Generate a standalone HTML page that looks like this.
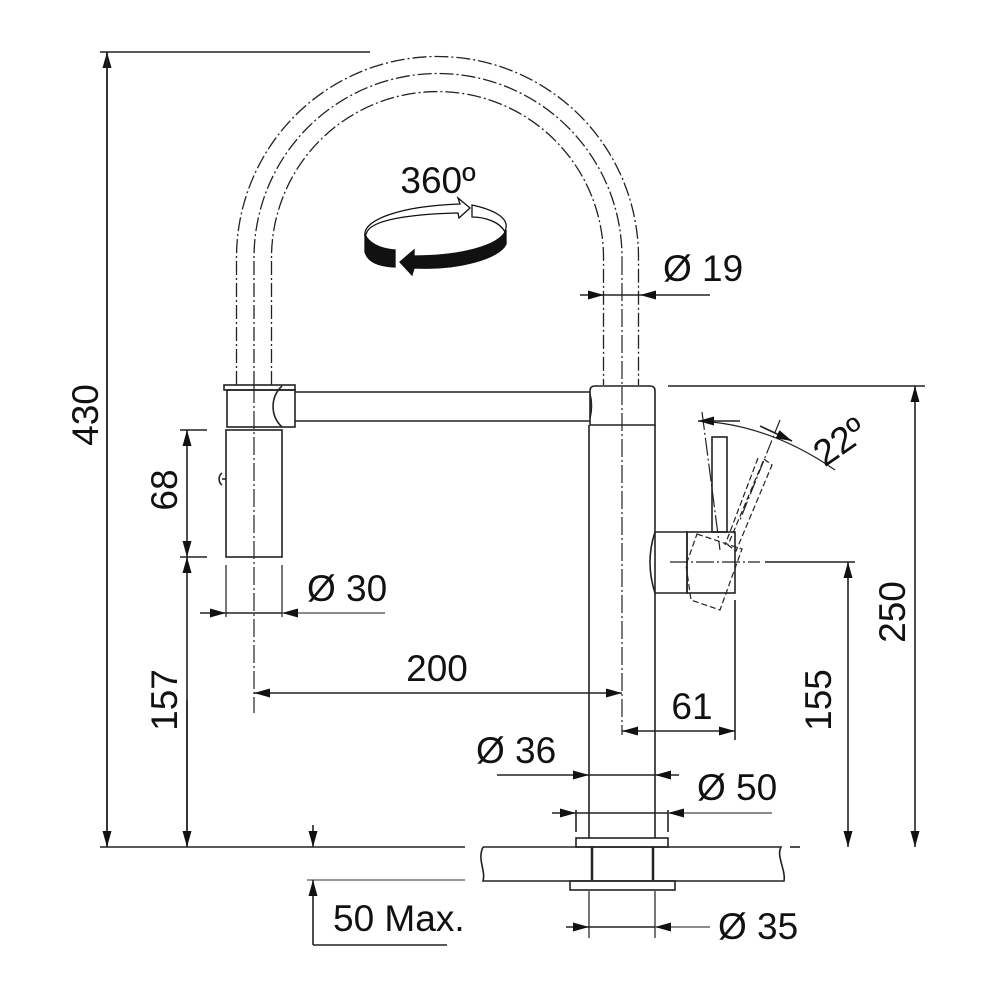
<!DOCTYPE html>
<html><head><meta charset="utf-8"><style>
html,body{margin:0;padding:0;background:#fff}
svg{display:block}
text{font-family:"Liberation Sans",Arial,sans-serif;fill:#111}
</style></head><body>
<svg width="1000" height="1000" viewBox="0 0 1000 1000" xmlns="http://www.w3.org/2000/svg">
<defs>
<marker id="a" markerUnits="userSpaceOnUse" markerWidth="18" markerHeight="10" refX="16" refY="4.5" orient="auto"><path d="M0,0 L16,4.5 L0,9 z" fill="#111"/></marker>
</defs>
<g fill="none" stroke="#222" stroke-width="1.6">
<!-- 430 -->
<line x1="100" y1="52" x2="370" y2="52"/>
<line x1="107" y1="847" x2="107" y2="52" marker-end="url(#a)"/>
<line x1="107" y1="52" x2="107" y2="847" marker-end="url(#a)"/>
<line x1="100" y1="847" x2="465" y2="847"/>
<!-- countertop -->
<line x1="307" y1="880" x2="465" y2="880" stroke="#777"/>
<path d="M483,847 L781,847 C776,856 786,870 784,881 L483,881 C486,870 477,860 483,847"/>
<line x1="790" y1="847" x2="800" y2="847"/>
<!-- arch -->
<g stroke-dasharray="14,3,2,3" stroke-width="1.3">
<path d="M236.5,385 L236.5,257.5 A201,201 0 0 1 638.5,257.5 L638.5,385"/>
<path d="M271.5,385 L271.5,257.5 A166,166 0 0 1 603.5,257.5 L603.5,385"/>
<path d="M254,385 L254,257.5 A184,184 0 0 1 622,257.5"/>
</g>
<!-- center lines -->
<g stroke-dasharray="18,3,2,3" stroke-width="1.2">
<line x1="254" y1="385" x2="254" y2="713"/>
<line x1="622" y1="257" x2="622" y2="735"/>
<line x1="702" y1="412" x2="720" y2="550"/>
<line x1="670" y1="562" x2="760" y2="562"/>
</g>
<!-- left head -->
<rect x="224" y="385" width="71" height="5"/>
<rect x="227" y="390" width="68" height="37"/>
<path d="M282,386 A28,28 0 0 0 282,427"/>
<rect x="226" y="430" width="56" height="127"/>
<path d="M222,473 A6,7 0 0 0 222,485 M222,479 L226,479"/>
<!-- spout -->
<line x1="295" y1="392" x2="590" y2="392"/>
<line x1="295" y1="421" x2="590" y2="421"/>
<!-- body -->
<path d="M590,425 L590,391 Q590,386 595,386 L650,386 Q655,386 655,391 L655,425 Z"/>
<path d="M590,394 Q593,406 590,418"/>
<line x1="589" y1="425" x2="589" y2="838"/>
<line x1="655" y1="425" x2="655" y2="838"/>
<!-- lever -->
<path d="M655,532 L687,532 L687,593 L655,593 Q645,562 655,532"/>
<rect x="687" y="532" width="48" height="61"/>
<rect x="712" y="437" width="15" height="95"/>
<g stroke-dasharray="6,3" stroke-width="1.2">
<path d="M764,459 L772,465 L736,551 L728,545 Z"/>
<path d="M758,458 L725,545"/>
<path d="M697,534 L742,549 L720,610 L691,600 L686,565 Z"/>
</g>
<!-- 22 deg -->
<path d="M700,421 Q770,425 835,470" stroke-width="1.2"/>
<line x1="780" y1="420" x2="740" y2="520" stroke-dasharray="14,3,2,3" stroke-width="1.2"/>
<line x1="740" y1="421" x2="698" y2="421" marker-end="url(#a)"/>
<line x1="760" y1="426" x2="792" y2="441" marker-end="url(#a)"/>
<!-- flange & under -->
<rect x="576" y="838" width="92" height="9"/>
<line x1="592" y1="847" x2="592" y2="880" stroke-width="2.5"/>
<line x1="653" y1="847" x2="653" y2="880" stroke-width="2.5"/>
<rect x="570" y="881" width="105" height="9"/>
<!-- Ø19 -->
<line x1="580" y1="295" x2="604" y2="295" marker-end="url(#a)"/>
<line x1="710" y1="295" x2="640" y2="295" marker-end="url(#a)"/>
<line x1="604" y1="295" x2="640" y2="295"/>
<!-- 68 / 157 -->
<line x1="180" y1="430" x2="207" y2="430"/>
<line x1="180" y1="557" x2="207" y2="557"/>
<line x1="187" y1="493" x2="187" y2="430" marker-end="url(#a)"/>
<line x1="187" y1="493" x2="187" y2="557" marker-end="url(#a)"/>
<line x1="187" y1="847" x2="187" y2="557" marker-end="url(#a)"/>
<line x1="187" y1="700" x2="187" y2="847" marker-end="url(#a)"/>
<!-- Ø30 -->
<line x1="226" y1="565" x2="226" y2="617" stroke="#555"/>
<line x1="282" y1="565" x2="282" y2="617" stroke="#555"/>
<line x1="200" y1="613" x2="226" y2="613" marker-end="url(#a)"/>
<line x1="385" y1="613" x2="282" y2="613" stroke="#666" marker-end="url(#a)"/>
<line x1="226" y1="613" x2="282" y2="613"/>
<!-- 200 -->
<line x1="440" y1="693" x2="254" y2="693" marker-end="url(#a)"/>
<line x1="440" y1="693" x2="622" y2="693" marker-end="url(#a)"/>
<!-- 61 -->
<line x1="735" y1="600" x2="735" y2="740"/>
<line x1="680" y1="731" x2="622" y2="731" marker-end="url(#a)"/>
<line x1="680" y1="731" x2="735" y2="731" marker-end="url(#a)"/>
<!-- 155 -->
<line x1="765" y1="562" x2="855" y2="562"/>
<line x1="848" y1="700" x2="848" y2="562" marker-end="url(#a)"/>
<line x1="848" y1="700" x2="848" y2="847" marker-end="url(#a)"/>
<!-- 250 -->
<line x1="668" y1="386" x2="925" y2="386"/>
<line x1="915" y1="600" x2="915" y2="386" marker-end="url(#a)"/>
<line x1="915" y1="600" x2="915" y2="847" marker-end="url(#a)"/>
<!-- Ø36 -->
<line x1="497" y1="775" x2="589" y2="775" marker-end="url(#a)"/>
<line x1="679" y1="775" x2="655" y2="775" marker-end="url(#a)"/>
<line x1="589" y1="775" x2="655" y2="775"/>
<!-- Ø50 -->
<line x1="576" y1="810" x2="576" y2="832"/>
<line x1="668" y1="810" x2="668" y2="832"/>
<line x1="552" y1="813" x2="576" y2="813" marker-end="url(#a)"/>
<line x1="772" y1="813" x2="668" y2="813" stroke="#666" marker-end="url(#a)"/>
<line x1="576" y1="813" x2="668" y2="813"/>
<!-- Ø35 -->
<line x1="589" y1="890" x2="589" y2="938" stroke="#555"/>
<line x1="655" y1="890" x2="655" y2="938" stroke="#555"/>
<line x1="566" y1="927" x2="589" y2="927" marker-end="url(#a)"/>
<line x1="710" y1="927" x2="655" y2="927" stroke="#666" marker-end="url(#a)"/>
<line x1="589" y1="927" x2="655" y2="927"/>
<!-- 50 Max -->
<line x1="313" y1="825" x2="313" y2="847" marker-end="url(#a)"/>
<line x1="313" y1="945" x2="313" y2="880" marker-end="url(#a)"/>
<line x1="313" y1="945" x2="447" y2="945"/>
</g>
<!-- 360 icon -->
<g stroke="#111" stroke-width="1.3">
<path d="M365,236 C362,220 400,206 460,204 L458,198 L470,208 L459,218 L458,213 C410,214 372,220 367,232 Z" fill="#fff"/>
<path d="M472,205 C495,210 508,218 506,228 L505,232 C500,222 485,217 472,217 Z" fill="#fff"/>
<path d="M365,234 L365,252 C368,262 378,266 395,267 L395,250 C380,249 368,243 365,234 Z" fill="#111"/>
<path d="M400,262 L414,250 L414,256 C460,256 500,246 506,230 L506,244 C500,258 460,270 414,268 L412,275 Z" fill="#111"/>
</g>
<!-- text -->
<g font-size="37">
<text x="438" y="193" text-anchor="middle">360º</text>
<text x="663" y="281">Ø 19</text>
<text x="307" y="601">Ø 30</text>
<text x="437" y="681" text-anchor="middle">200</text>
<text x="692" y="719" text-anchor="middle">61</text>
<text x="476" y="763">Ø 36</text>
<text x="697" y="800">Ø 50</text>
<text x="718" y="939">Ø 35</text>
<text x="333" y="931">50 Max.</text>
<text transform="translate(98,415) rotate(-90)" text-anchor="middle">430</text>
<text transform="translate(177,490) rotate(-90)" text-anchor="middle">68</text>
<text transform="translate(177,700) rotate(-90)" text-anchor="middle">157</text>
<text transform="translate(831,700) rotate(-90)" text-anchor="middle">155</text>
<text transform="translate(905,612) rotate(-90)" text-anchor="middle">250</text>
<text transform="translate(847,452) rotate(-35)" text-anchor="middle">22º</text>
</g>
</svg>
</body></html>
